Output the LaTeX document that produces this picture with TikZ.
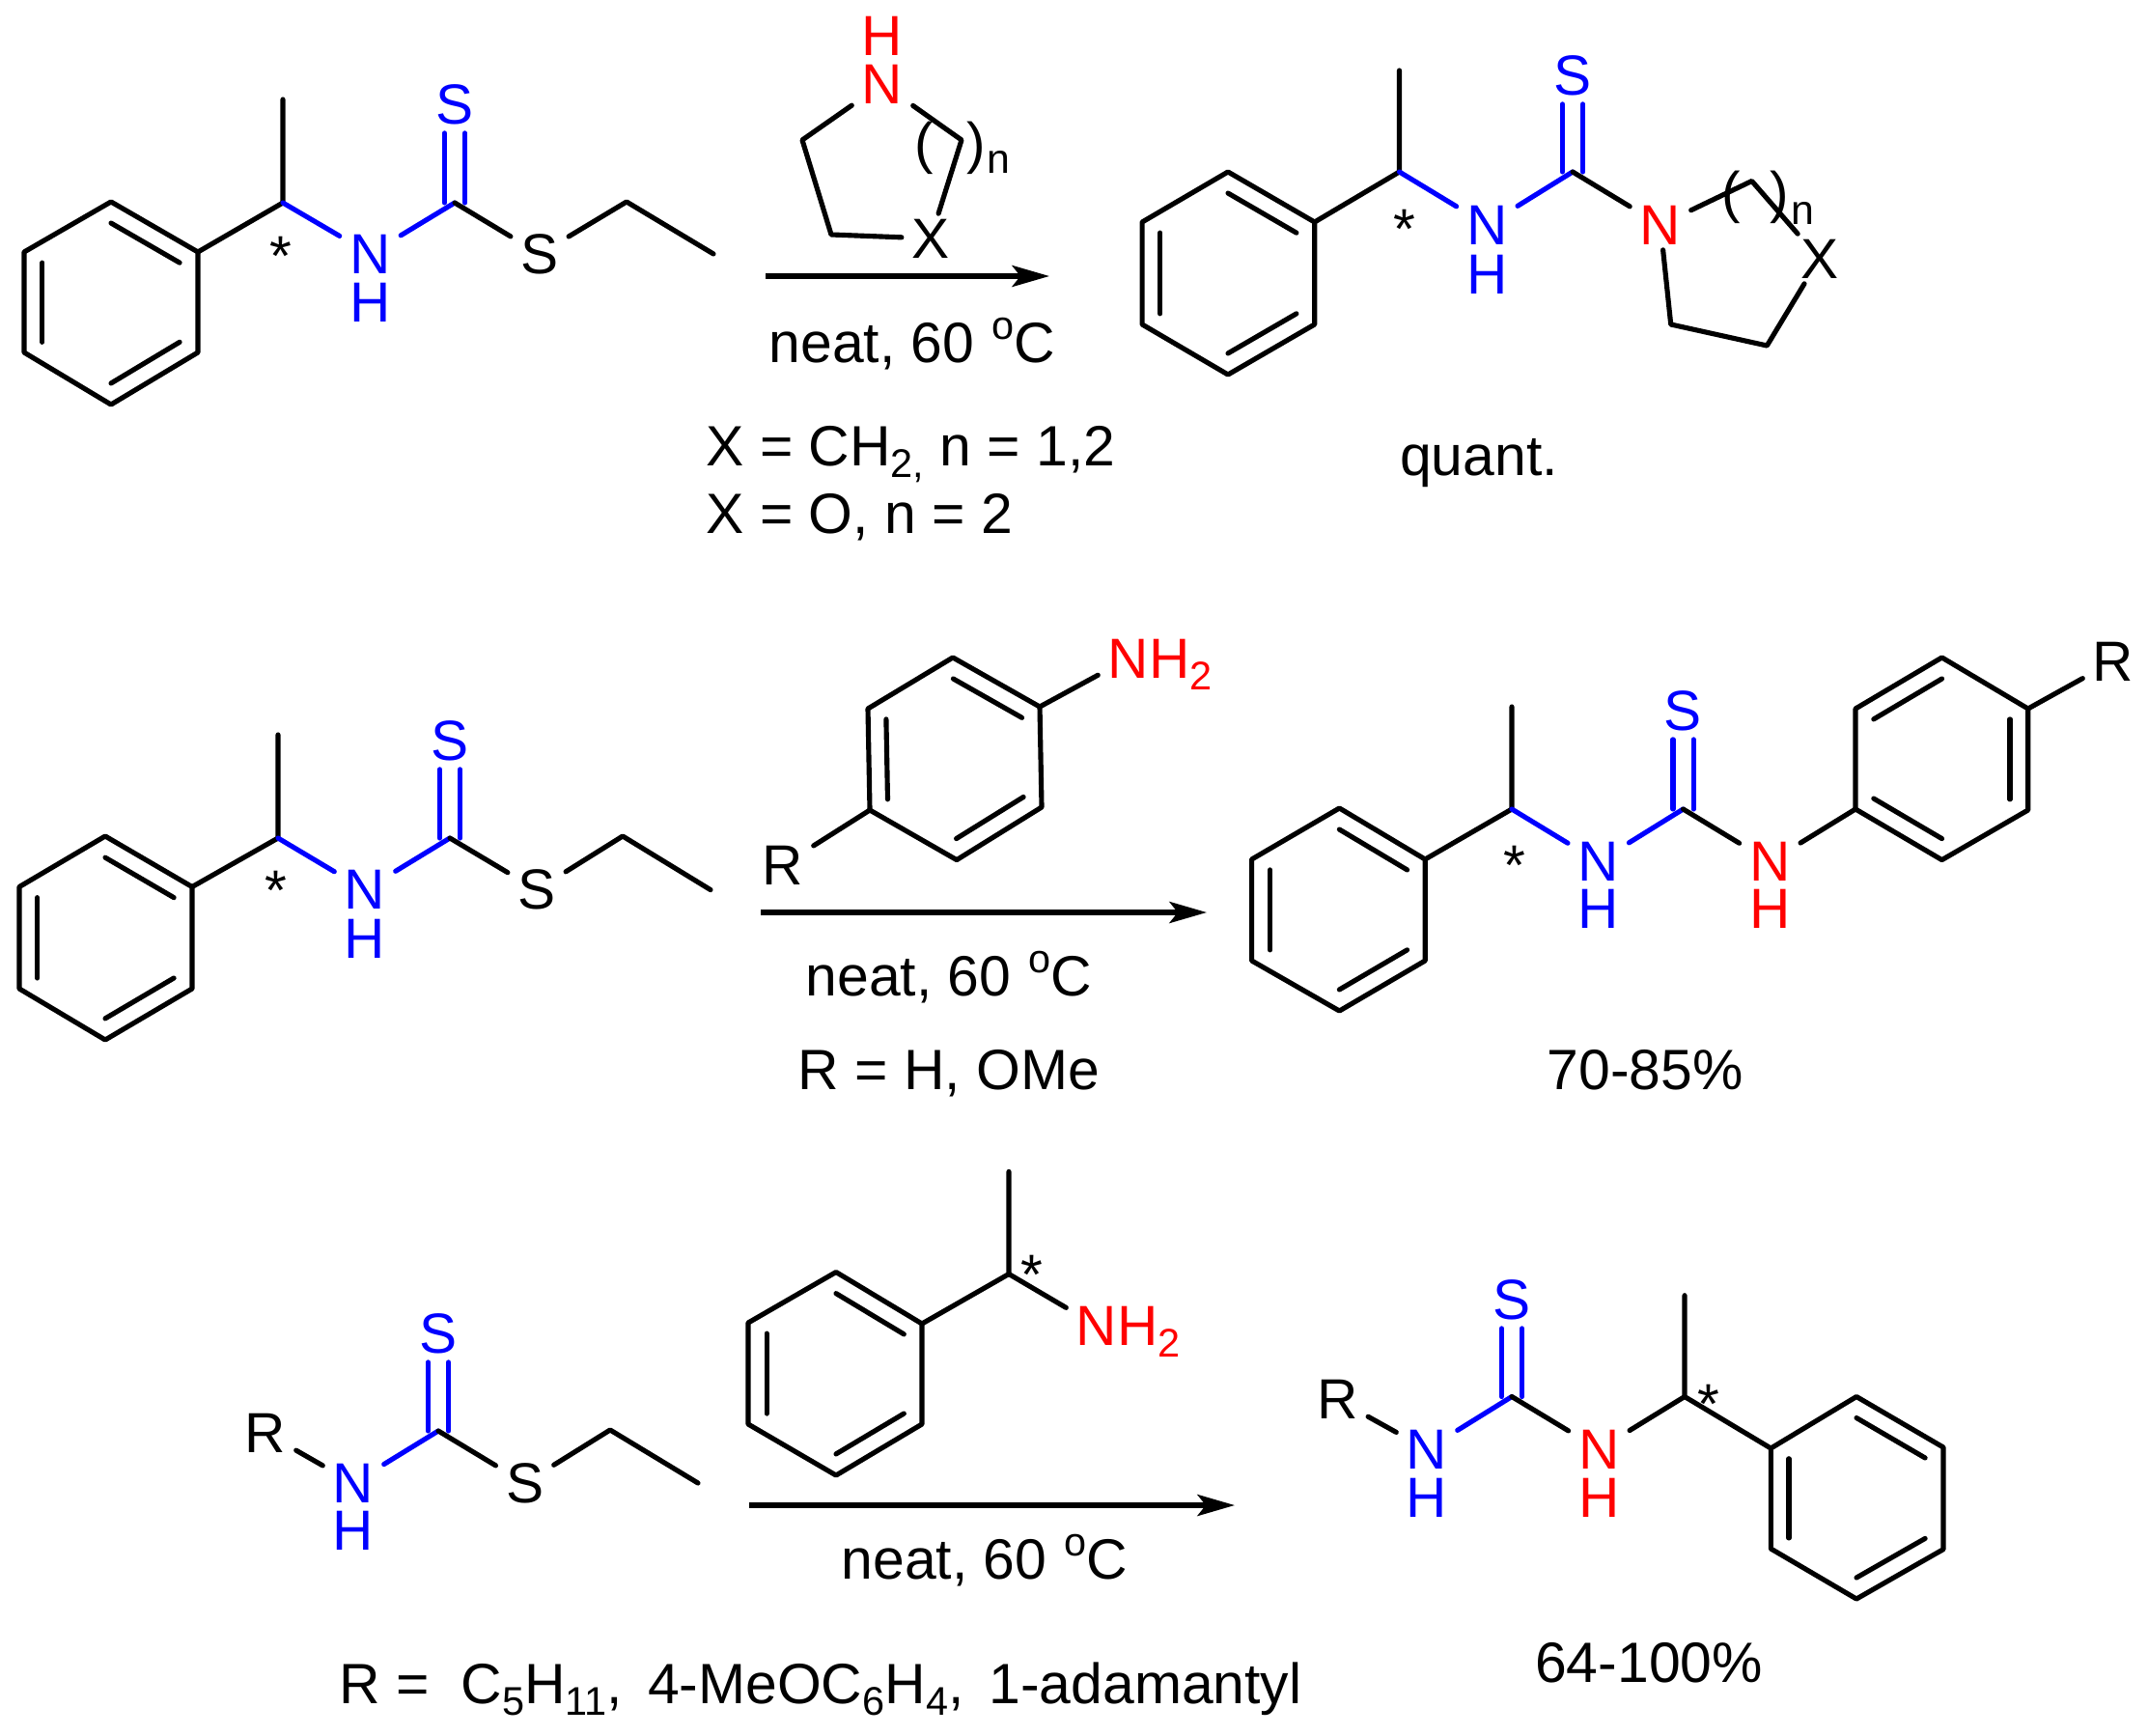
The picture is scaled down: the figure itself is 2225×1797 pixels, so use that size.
\documentclass[tikz,border=0pt]{standalone}
\usepackage{fontspec}
\setmainfont{Liberation Sans}
\usetikzlibrary{calc,arrows.meta}
\newcommand{\chemfont}{\fontsize{20.5}{24}\selectfont}
\newcommand{\labelfnt}{\fontsize{20.6}{24}\selectfont}
\newcommand{\subt}[1]{\raisebox{-4.4pt}{\fontsize{14.5}{16}\selectfont #1}}
\newcommand{\supt}[1]{\raisebox{8.4pt}{\fontsize{14.5}{16}\selectfont #1}}
\newcommand{\ChemRing}[7]{%
  \coordinate (#1A) at #2; \coordinate (#1B) at #3; \coordinate (#1C) at #4;
  \coordinate (#1D) at #5; \coordinate (#1E) at #6; \coordinate (#1F) at #7;
  \coordinate (#1O) at ($(#1A)!.5!(#1D)$);
  \draw[bond] (#1A)--(#1B)--(#1C)--(#1D)--(#1E)--(#1F)--cycle;}
\newcommand{\ChemDbl}[3]{\draw[bond] ($(#1#2)!.21!(#1O)$) -- ($(#1#3)!.21!(#1O)$);}
\newcommand{\ThioC}[2]{%
  \draw[sbond] ([xshift=-3.7pt]#1) -- ([xshift=-3.7pt,yshift=-1.2pt]#1 |- #2.south);
  \draw[sbond] ([xshift=3.7pt]#1) -- ([xshift=3.7pt,yshift=-1.2pt]#1 |- #2.south);}
\tikzset{
  bond/.style={line width=1.8pt,line join=round,line cap=round,black},
  sbond/.style={line width=1.8pt,line cap=round,blue},
  atomk/.style={inner xsep=3.5pt,inner ysep=1.8pt,font=\chemfont,text=black},
  atomb/.style={inner xsep=3.5pt,inner ysep=1.8pt,font=\chemfont,text=blue},
  atomr/.style={inner xsep=3.5pt,inner ysep=1.8pt,font=\chemfont,text=red},
  hatom/.style={inner sep=0pt,font=\chemfont},
  starmark/.style={inner sep=0pt,font=\chemfont,text=black,yshift=-2.6pt},
  txt/.style={inner sep=0pt,anchor=base west,font=\labelfnt,text=black},
  ctxt/.style={inner sep=0pt,anchor=base,font=\labelfnt,text=black},
  rtxt/.style={inner sep=0pt,anchor=base west,font=\chemfont,text=red},
  paren/.style={inner sep=0pt,font=\chemfont,text=black},
  idx/.style={inner sep=0pt,font=\fontsize{15}{18}\selectfont,text=black},
  rarrow/.style={line width=1.9pt,black,-{Stealth[length=13.5pt,width=7.7pt,inset=3pt]}},
}
\definecolor{blue}{RGB}{0,0,255}
\definecolor{red}{RGB}{255,0,0}
\begin{document}
\begin{tikzpicture}[x=.35pt,y=-.35pt]
\path[use as bounding box,fill=white] (0,0) rectangle (2225,1797);

% ---------- row 1, thiocarbamate
\ChemRing{a}{(115,209)}{(205,261)}{(205,365)}{(115,419)}{(25,365)}{(25,261)}
\ChemDbl{a}{A}{B}\ChemDbl{a}{C}{D}\ChemDbl{a}{E}{F}
\coordinate (a1) at (293,210); \coordinate (a2) at (293,103);
\coordinate (a3) at (471,210); \coordinate (a4) at (649,209); \coordinate (a5) at (739,263);
\node[atomb] (aN) at (383.5,263) {N};
\node[hatom,text=blue] (aH) at (383.5,313) {H};
\node[atomb] (aS) at (471,108) {S};
\node[atomk] (aT) at (559,263) {S};
\node[starmark] (as) at (291,258) {*};
\draw[bond] (aB) -- (a1) -- (a2);
\draw[sbond] (a1) -- (aN);
\draw[sbond] (aN) -- (a3);
\ThioC{a3}{aS}
\draw[bond] (a3) -- (aT);
\draw[bond] (aT) -- (a4) -- (a5);

% ---------- row 1, amine
\node[hatom,text=red] (bH) at (914,37) {H};
\node[atomr] (bN) at (914,87) {N};
\node[atomk] (bX) at (964,247) {X};
\coordinate (b1) at (831,145); \coordinate (b2) at (861,243); \coordinate (b3) at (996,145);
\draw[bond] (bN) -- (b1) -- (b2) -- (bX);
\draw[bond] (bX) -- (b3) -- (bN);
\node[paren] (bp1) at (957,153) {(};
\node[paren] (bp2) at (1011,153) {)};
\node[idx] (bn) at (1034,168) {n};

% ---------- row 1, arrow and texts
\coordinate (r1s) at (793,286); \coordinate (r1e) at (1087,286);
\draw[rarrow] (r1s) -- (r1e);
\node[txt] (t1) at (796,375) {neat, 60\kern.8pt{} \supt{o}C};
\node[txt] (t2) at (731,482) {X = CH\subt{2,} n = 1,2};
\node[txt] (t3) at (731,552) {X = O, n = 2};
\node[ctxt] (t4) at (1532,492) {quant.};

% ---------- row 1, product
\ChemRing{c}{(1272,178)}{(1361.7,230)}{(1361.7,336)}{(1272,388)}{(1183.1,336)}{(1183.1,230)}
\ChemDbl{c}{A}{B}\ChemDbl{c}{C}{D}\ChemDbl{c}{E}{F}
\coordinate (c1) at (1449.5,178); \coordinate (c2) at (1449.5,73); \coordinate (c3) at (1629,178);
\node[atomb] (cN) at (1540.3,233) {N};
\node[hatom,text=blue] (cH) at (1540.3,284) {H};
\node[atomb] (cS) at (1629,78) {S};
\node[atomr] (cR) at (1719.9,233) {N};
\node[atomk] (cX) at (1884.6,268) {X};
\node[starmark] (cs) at (1454.5,230) {*};
\coordinate (c4) at (1814.6,187.5); \coordinate (c5) at (1830.3,358); \coordinate (c6) at (1730.7,336);
\draw[bond] (cB) -- (c1) -- (c2);
\draw[sbond] (c1) -- (cN);
\draw[sbond] (cN) -- (c3);
\ThioC{c3}{cS}
\draw[bond] (c3) -- (cR);
\draw[bond] (cR) -- (c4) -- (cX);
\draw[bond] (cX) -- (c5) -- (c6) -- (cR);
\node[paren] (cp1) at (1792.9,204) {(};
\node[paren] (cp2) at (1842.8,204) {)};
\node[idx] (cn) at (1866.9,221) {n};

% ---------- row 2, thiocarbamate
\ChemRing{d}{(109,866)}{(199,918.5)}{(199,1024)}{(109,1077)}{(20,1024)}{(20,918.5)}
\ChemDbl{d}{A}{B}\ChemDbl{d}{C}{D}\ChemDbl{d}{E}{F}
\coordinate (d1) at (288,868); \coordinate (d2) at (288,761);
\coordinate (d3) at (466,868); \coordinate (d4) at (645,866); \coordinate (d5) at (736,921.6);
\node[atomb] (dN) at (378,921.6) {N};
\node[hatom,text=blue] (dH) at (378,972) {H};
\node[atomb] (dS) at (466,767) {S};
\node[atomk] (dT) at (556,921.6) {S};
\node[starmark] (ds) at (286,915) {*};
\draw[bond] (dB) -- (d1) -- (d2);
\draw[sbond] (d1) -- (dN);
\draw[sbond] (dN) -- (d3);
\ThioC{d3}{dS}
\draw[bond] (d3) -- (dT);
\draw[bond] (dT) -- (d4) -- (d5);

% ---------- row 2, aniline
\ChemRing{e}{(987,681)}{(1077,732)}{(1079,836)}{(991,890.6)}{(901,839)}{(899,734)}
\ChemDbl{e}{A}{B}\ChemDbl{e}{C}{D}\ChemDbl{e}{E}{F}
\node[atomr] (eN) at (1169,682) {N};
\node[rtxt] (eH) at (1190,702) {H\subt{2}};
\node[atomk] (eR) at (811,896) {R};
\draw[bond] (eB) -- (eN);
\draw[bond] (eE) -- (eR);

% ---------- row 2, arrow and texts
\coordinate (r2s) at (788,945); \coordinate (r2e) at (1250,945);
\draw[rarrow] (r2s) -- (r2e);
\node[txt] (t5) at (834,1031) {neat, 60\kern.8pt{} \supt{o}C};
\node[txt] (t6) at (826,1128) {R = H, OMe};
\node[ctxt] (t7) at (1704,1128) {70-85\%};

% ---------- row 2, product
\ChemRing{f}{(1387.4,837)}{(1476.2,890)}{(1476.2,995)}{(1387.4,1047)}{(1296.6,995)}{(1296.6,890)}
\ChemDbl{f}{A}{B}\ChemDbl{f}{C}{D}\ChemDbl{f}{E}{F}
\coordinate (f1) at (1566,838); \coordinate (f2) at (1566,732); \coordinate (f3) at (1743.5,838);
\node[atomb] (fN) at (1655.7,892.5) {N};
\node[hatom,text=blue] (fH) at (1655.7,941.5) {H};
\node[atomb] (fS) at (1743.5,736) {S};
\node[atomr] (fM) at (1833.3,892.5) {N};
\node[hatom,text=red] (fI) at (1833.3,941.5) {H};
\node[starmark] (fs) at (1569,889) {*};
\node[atomk] (fR) at (2189,685) {R};
\draw[bond] (fB) -- (f1) -- (f2);
\draw[sbond] (f1) -- (fN);
\draw[sbond] (fN) -- (f3);
\ThioC{f3}{fS}
\draw[bond] (f3) -- (fM);
\ChemRing{g}{(2011.5,681)}{(2100.7,734)}{(2100.7,839)}{(2011.5,890.6)}{(1922,838)}{(1922,734)}
\ChemDbl{g}{A}{F}\ChemDbl{g}{B}{C}\ChemDbl{g}{D}{E}
\draw[bond] (fM) -- (gE);
\draw[bond] (gB) -- (fR);

% ---------- row 3, thiocarbamate
\coordinate (h3) at (454,1482); \coordinate (h4) at (632,1481); \coordinate (h5) at (723,1536);
\node[atomk] (hR) at (275,1484) {R};
\node[atomb] (hN) at (366,1536) {N};
\node[hatom,text=blue] (hH) at (366,1585.4) {H};
\node[atomb] (hS) at (454,1381) {S};
\node[atomk] (hT) at (543.6,1536) {S};
\draw[bond] (hR) -- (hN);
\draw[sbond] (hN) -- (h3);
\ThioC{h3}{hS}
\draw[bond] (h3) -- (hT);
\draw[bond] (hT) -- (h4) -- (h5);

% ---------- row 3, phenylethylamine
\ChemRing{i}{(866,1317.5)}{(955,1371)}{(955,1475)}{(866,1528)}{(775,1475)}{(775,1370)}
\ChemDbl{i}{A}{B}\ChemDbl{i}{C}{D}\ChemDbl{i}{E}{F}
\coordinate (i1) at (1045,1319.5); \coordinate (i2) at (1045,1213.5);
\node[starmark] (is) at (1069,1313) {*};
\node[atomr] (iN) at (1136,1373) {N};
\node[rtxt] (iH) at (1157,1393) {H\subt{2}};
\draw[bond] (iB) -- (i1) -- (i2);
\draw[bond] (i1) -- (iN);

% ---------- row 3, arrow and texts
\coordinate (r3s) at (776,1559); \coordinate (r3e) at (1279,1559);
\draw[rarrow] (r3s) -- (r3e);
\node[txt] (t8) at (871,1635) {neat, 60\kern.8pt{} \supt{o}C};
\node[txt] (t9) at (351,1764) {R =\ \ C\subt{5}H\subt{11}, \,4-MeOC\subt{6}H\subt{4}, \,1-adamantyl};
\node[ctxt] (t10) at (1708,1742) {64-100\%};

% ---------- row 3, product
\coordinate (j3) at (1566,1446.5); \coordinate (j1) at (1745,1446.5); \coordinate (j2) at (1745,1341.7);
\node[atomk] (jR) at (1385.4,1449.6) {R};
\node[atomb] (jN) at (1478,1501) {N};
\node[hatom,text=blue] (jH) at (1478,1551) {H};
\node[atomb] (jS) at (1566,1346) {S};
\node[atomr] (jM) at (1656.3,1501) {N};
\node[hatom,text=red] (jI) at (1656.3,1551) {H};
\node[starmark] (js) at (1769.8,1446.5) {*};
\ChemRing{k}{(1923,1446.5)}{(2013,1499)}{(2013,1604.6)}{(1923,1656)}{(1834.3,1604)}{(1834.3,1500)}
\ChemDbl{k}{A}{B}\ChemDbl{k}{C}{D}\ChemDbl{k}{E}{F}
\draw[bond] (jR) -- (jN);
\draw[sbond] (jN) -- (j3);
\ThioC{j3}{jS}
\draw[bond] (j3) -- (jM);
\draw[bond] (jM) -- (j1);
\draw[bond] (j2) -- (j1) -- (kF);
\end{tikzpicture}
\end{document}
